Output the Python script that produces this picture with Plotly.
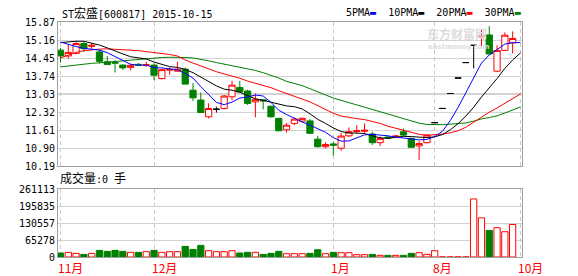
import plotly.graph_objects as go

# ---------------- data ----------------
open_ = [14.76, 14.53, 14.63, 15.02, 14.91, 14.69, 14.30, 14.27, 14.17, 14.08,
         14.20, 14.17, 14.17, 13.64, 13.97, 13.93, 14.01, 13.18, 12.79, 12.13,
         12.43, 12.46, 12.92, 13.29, 13.15, 12.72, 12.80, 12.55, 12.07, 11.62,
         11.87, 11.96, 11.97, 11.25, 10.95, 11.06, 10.89, 11.38, 11.55, 11.56,
         11.45, 11.11, 11.33, 11.33, 11.54, 11.28, 10.98, 11.11, 11.90, 12.46,
         13.05, 13.66, 14.27, 14.95, 15.29, 15.36, 13.93, 14.75, 15.05]
high = [14.85, 14.98, 15.08, 15.08, 15.04, 14.76, 14.52, 14.36, 14.20, 14.23,
        14.25, 14.30, 14.24, 14.02, 14.08, 14.30, 14.07, 13.46, 13.09, 12.66,
        12.53, 12.99, 13.55, 13.55, 13.20, 13.05, 12.80, 12.55, 12.07, 11.89,
        12.10, 12.10, 12.05, 11.38, 11.12, 11.14, 11.49, 11.71, 11.80, 11.87,
        11.54, 11.35, 11.40, 11.42, 11.67, 11.30, 11.17, 11.45, 11.90, 12.46,
        13.05, 13.66, 14.27, 14.95, 15.57, 15.70, 14.95, 15.46, 15.50]
low = [14.27, 14.43, 14.60, 14.69, 14.81, 14.23, 14.19, 13.88, 13.98, 13.96,
       14.14, 14.10, 13.58, 13.60, 13.79, 13.90, 13.42, 12.75, 12.30, 12.07,
       12.30, 12.42, 12.79, 13.11, 12.60, 12.11, 12.42, 12.10, 11.58, 11.51,
       11.80, 11.90, 11.45, 10.92, 10.89, 10.60, 10.79, 11.33, 11.47, 11.48,
       11.02, 10.98, 11.25, 11.30, 11.38, 10.90, 10.43, 11.08, 11.90, 12.46,
       13.05, 13.66, 14.27, 14.04, 14.89, 14.59, 13.89, 14.72, 14.63]
close = [14.53, 14.67, 15.02, 14.82, 14.95, 14.32, 14.19, 14.25, 14.06, 14.16,
         14.17, 14.18, 13.77, 13.99, 14.00, 14.01, 13.42, 12.88, 12.30, 12.46,
         12.43, 12.95, 13.38, 13.11, 12.66, 12.82, 12.76, 12.13, 11.58, 11.80,
         12.04, 12.07, 11.48, 10.95, 11.04, 11.01, 11.37, 11.54, 11.58, 11.60,
         11.11, 11.28, 11.30, 11.37, 11.41, 10.93, 11.08, 11.41, 11.90, 12.46,
         13.05, 13.66, 14.27, 14.95, 15.33, 14.61, 14.75, 15.35, 15.22]
volume = [15400, 18000, 14000, 10000, 14000, 25600, 21800, 25600, 21800, 18000,
          18000, 20500, 25600, 18000, 20500, 20500, 41000, 29400, 44800, 24300,
          20500, 20500, 24300, 15400, 18000, 18000, 10000, 14000, 21800, 12800,
          12800, 12800, 14000, 28000, 12800, 18000, 16600, 16600, 9000, 9000,
          10200, 6400, 6400, 6400, 6400, 14000, 16600, 10200, 24300, 300,
          300, 300, 300, 224000, 151000, 102500, 113000, 97500, 125500]

ma5 = [15.08, 14.98, 14.90, 14.83, 14.80, 14.76, 14.66, 14.51, 14.36, 14.20,
       14.17, 14.17, 14.07, 14.06, 14.02, 13.99, 13.84, 13.66, 13.32, 13.02,
       12.70, 12.61, 12.71, 12.87, 12.91, 12.99, 12.95, 12.70, 12.39, 12.22,
       12.06, 11.93, 11.80, 11.67, 11.52, 11.31, 11.17, 11.18, 11.31, 11.42,
       11.44, 11.42, 11.38, 11.33, 11.30, 11.26, 11.22, 11.24, 11.35, 11.56,
       11.98, 12.50, 13.07, 13.68, 14.25, 14.57, 14.78, 15.00, 15.05, 15.06]
ma10 = [15.06, 15.09, 15.11, 15.11, 15.05, 14.96, 14.85, 14.72, 14.61, 14.50,
        14.46, 14.41, 14.29, 14.21, 14.11, 14.08, 14.00, 13.87, 13.69, 13.52,
        13.35, 13.22, 13.18, 13.10, 12.96, 12.84, 12.78, 12.70, 12.63, 12.56,
        12.53, 12.44, 12.25, 12.03, 11.87, 11.69, 11.55, 11.49, 11.49, 11.47,
        11.38, 11.30, 11.28, 11.32, 11.36, 11.35, 11.32, 11.31, 11.34, 11.43,
        11.62, 11.86, 12.16, 12.51, 12.91, 13.27, 13.64, 14.04, 14.37, 14.65]
ma20 = [14.45, 14.57, 14.67, 14.74, 14.78, 14.80, 14.81, 14.80, 14.79, 14.77,
        14.74, 14.70, 14.67, 14.62, 14.59, 14.53, 14.37, 14.25, 14.13, 14.01,
        13.91, 13.82, 13.74, 13.65, 13.54, 13.46, 13.39, 13.28, 13.16, 13.04,
        12.94, 12.83, 12.72, 12.56, 12.42, 12.27, 12.16, 12.10, 12.06, 12.02,
        11.95, 11.87, 11.76, 11.68, 11.61, 11.52, 11.44, 11.40, 11.42, 11.45,
        11.50, 11.58, 11.72, 11.92, 12.13, 12.31, 12.48, 12.67, 12.85, 13.03]
ma30 = [14.10, 14.14, 14.18, 14.21, 14.24, 14.26, 14.29, 14.32, 14.35, 14.38,
        14.41, 14.44, 14.46, 14.47, 14.48, 14.48, 14.47, 14.45, 14.40, 14.34,
        14.27, 14.21, 14.16, 14.10, 14.04, 13.96, 13.87, 13.77, 13.66, 13.53,
        13.45, 13.36, 13.24, 13.11, 12.98, 12.87, 12.78, 12.69, 12.60, 12.52,
        12.42, 12.32, 12.24, 12.15, 12.06, 11.96, 11.88, 11.83, 11.82, 11.82,
        11.84, 11.87, 11.89, 11.96, 12.05, 12.10, 12.17, 12.28, 12.40, 12.52]

month_labels = ["11月", "12月", "1月", "8月", "10月"]
month_pos = [0, 12, 35, 48, 59]
price_ticks = [10.19, 10.90, 11.61, 12.32, 13.03, 13.74, 14.45, 15.16, 15.87]
vol_ticks = [0, 65278, 130557, 195835, 261113]
ma_names = ["5PMA", "10PMA", "20PMA", "30PMA"]
ma_colors = ["#0000ff", "#000000", "#ff0000", "#008000"]

RED, GREEN = "#ff0000", "#008000"
MONO = "DejaVu Sans Mono, Noto Sans CJK SC"
CJK = "Noto Sans CJK SC"

n = len(close)
xs = list(range(n))
xm = list(range(len(ma5)))

fig = go.Figure()

groups = [
    ([i for i in xs if close[i] > open_[i]], RED, "#ffffff"),
    ([i for i in xs if close[i] < open_[i]], GREEN, GREEN),
    ([i for i in xs if close[i] == open_[i]], "#000000", "#000000"),
]
for idx, col, fill in groups:
    fig.add_trace(go.Candlestick(
        x=idx, open=[open_[i] for i in idx], high=[high[i] for i in idx],
        low=[low[i] for i in idx], close=[close[i] for i in idx],
        increasing=dict(line=dict(color=col, width=1), fillcolor=fill),
        decreasing=dict(line=dict(color=col, width=1), fillcolor=fill),
        whiskerwidth=0, showlegend=False, hoverinfo="skip",
        xaxis="x", yaxis="y"))

for vals, col in zip([ma30, ma20, ma10, ma5], ma_colors[::-1]):
    fig.add_trace(go.Scatter(x=xm, y=vals, mode="lines",
                             line=dict(color=col, width=1),
                             showlegend=False, hoverinfo="skip",
                             xaxis="x", yaxis="y"))

vol_fill = ["#ffffff" if close[i] >= open_[i] else GREEN for i in xs]
vol_line = [RED if close[i] >= open_[i] else GREEN for i in xs]
fig.add_trace(go.Bar(x=xs, y=volume,
                     marker=dict(color=vol_fill, line=dict(color=vol_line, width=1)),
                     showlegend=False, hoverinfo="skip",
                     xaxis="x2", yaxis="y2"))

axis_common = dict(showline=True, mirror=True, linecolor="#a0a0a0", linewidth=1,
                   zeroline=False, ticks="")
xaxis = dict(axis_common, range=[-0.32, 59.2], tickvals=month_pos,
             showticklabels=False, showgrid=True, gridcolor="#c8c8c8",
             griddash="4px,3px", gridwidth=1, rangeslider=dict(visible=False),
             fixedrange=True)

fig.update_layout(
    width=578, height=276,
    margin=dict(l=58, r=56, t=22, b=19),
    paper_bgcolor="#ffffff", plot_bgcolor="#ffffff",
    boxgap=0.2, boxgroupgap=0, bargap=0.2,
    xaxis=dict(xaxis, anchor="y", domain=[0, 1]),
    xaxis2=dict(xaxis, anchor="y2", domain=[0, 1], matches="x"),
    yaxis=dict(axis_common, domain=[0.3872, 1.0], range=[10.19, 15.87],
               tickvals=price_ticks, ticktext=["%.2f" % v for v in price_ticks],
               showgrid=True, gridcolor="#d2d2d2", gridwidth=1,
               tickfont=dict(family=MONO, size=10, color="#000000")),
    yaxis2=dict(axis_common, domain=[0, 0.288], range=[0, 261113],
                tickvals=vol_ticks, ticktext=[str(v) for v in vol_ticks],
                showgrid=True, gridcolor="#d2d2d2", gridwidth=1,
                tickfont=dict(family=MONO, size=10, color="#000000")),
    showlegend=False,
)

# darker middle grid line of the price panel
fig.add_shape(type="line", xref="x domain", yref="y", x0=0, x1=1,
              y0=price_ticks[4], y1=price_ticks[4],
              line=dict(color="#a8a8a8", width=1), layer="below")

ann = []
ann.append(dict(xref="paper", yref="paper", x=0, y=1.0383, xanchor="left",
                yanchor="middle", xshift=3, showarrow=False, borderpad=0,
                text="ST<span style='font-family:Noto Sans CJK SC;font-size:12px'>宏盛</span>[600817] 2015-10-15",
                font=dict(family=MONO, size=10, color="#000000")))
leg = "&nbsp;&nbsp;".join(
    "%s<span style='color:%s'>▬</span>" % (nm, c) for nm, c in zip(ma_names, ma_colors))
ann.append(dict(xref="paper", yref="paper", x=1, y=1.0383, xanchor="right",
                yanchor="middle", xshift=0, showarrow=False, borderpad=0,
                text=leg, font=dict(family=MONO, size=10, color="#000000")))
ann.append(dict(xref="paper", yref="paper", x=0, y=0.3404, xanchor="left",
                yanchor="middle", xshift=1, showarrow=False, borderpad=0,
                text="<span style='font-family:Noto Sans CJK SC;font-size:12px'>成交量</span>:0 <span style='font-family:Noto Sans CJK SC;font-size:12px'>手</span>",
                font=dict(family=MONO, size=10, color="#000000")))
for lab, pos in zip(month_labels, month_pos):
    ann.append(dict(xref="x2", yref="paper", x=pos, y=-0.0468, xanchor="left",
                    yanchor="middle", xshift=-3, showarrow=False, borderpad=0,
                    text=lab, font=dict(family=CJK, size=12, color=RED)))
# watermark
ann.append(dict(xref="paper", yref="paper", x=0.86, y=0.95, xanchor="center",
                yanchor="middle", showarrow=False, borderpad=0,
                text="<b>东方财富网</b>", font=dict(family=CJK, size=12, color="#dcdcdc")))
ann.append(dict(xref="paper", yref="paper", x=0.865, y=0.895, xanchor="center",
                yanchor="middle", showarrow=False, borderpad=0,
                text="<b>eastmoney.com</b>", font=dict(family="DejaVu Sans", size=7, color="#dcdcdc")))
fig.update_layout(annotations=ann)

fig.write_html("out.html")
